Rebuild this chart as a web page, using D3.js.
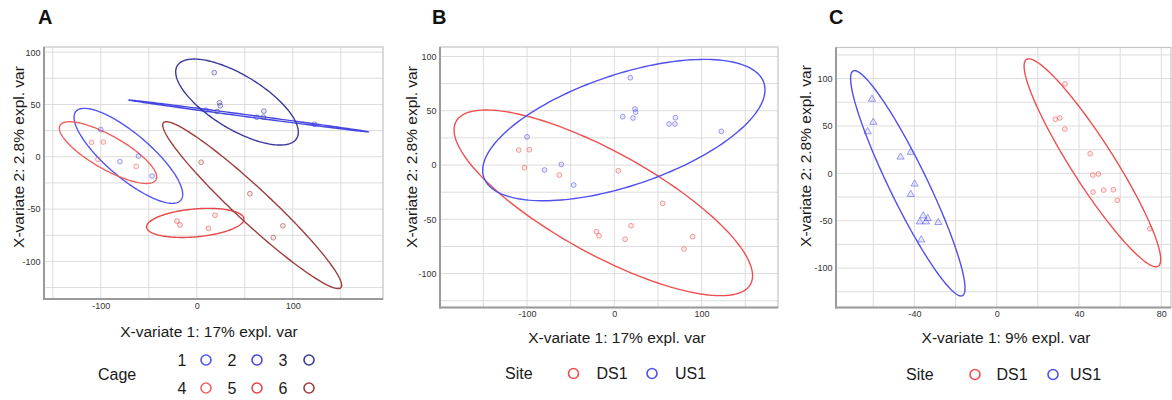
<!DOCTYPE html>
<html>
  <head>
    <meta charset="utf-8">
    <title>PLS-DA sample plots</title>
    <script src="https://d3js.org/d3.v7.min.js"></script>
    <style>
      body { margin: 0; background: #fff; }
      text { font-family: "Liberation Sans", Arial, sans-serif; }
    </style>
  </head>
  <body>
  </body>
</html>

<script>
  // samples shared by panel A (coloured by cage) and panel B (coloured by site)
  var sampleX = [-100, -60.7, -80, -46.5, 18.3, 9.6, 23.7, 24.5, 21.4, 62.7, 69.5, 70, 122.6,
                 -109.5, -97.3, -103, -63, 4.6, 55.4, -20.6, -17.5, 19.1, 12.3, 79.8, 89.8];
  var sampleY = [26, 0.6, -4.6, -18.4, 80.4, 44.5, 51.6, 48.8, 43.3, 37.8, 37.8, 43.6, 31,
                 13.8, 14.1, -2.5, -9.2, -5.2, -35.3, -61.4, -65.1, -55.9, -68.4, -77.3, -66];
  var sampleCage = [1, 1, 1, 1, 3, 2, 3, 3, 3, 2, 3, 3, 2,
                    4, 4, 4, 4, 6, 6, 5, 5, 5, 5, 6, 6];
  var sampleSite = ["US1", "US1", "US1", "US1", "US1", "US1", "US1", "US1", "US1", "US1", "US1", "US1", "US1",
                    "DS1", "DS1", "DS1", "DS1", "DS1", "DS1", "DS1", "DS1", "DS1", "DS1", "DS1", "DS1"];

  // panel C samples
  var cX = [-60.6, -60, -62.7, -46.7, -41.8, -39.9, -41.8, -35.7, -33.5, -37.4, -34.4, -28.4, -36.7,
            33.2, 28.5, 30.6, 33.1, 45.4, 46.7, 49.4, 46.8, 52, 56.7, 58.6, 74.4];
  var cY = [78.2, 53.9, 44, 17.2, 22.2, -11.3, -22.2, -44.8, -47.6, -51.2, -51.2, -51.8, -70.2,
            94.4, 57.1, 58.5, 46.8, 20.7, -1.8, -0.7, -19.8, -17.7, -17.3, -28.5, -58.5];
  var cSite = ["US1", "US1", "US1", "US1", "US1", "US1", "US1", "US1", "US1", "US1", "US1", "US1", "US1",
               "DS1", "DS1", "DS1", "DS1", "DS1", "DS1", "DS1", "DS1", "DS1", "DS1", "DS1", "DS1"];

  // confidence ellipses: centre, half extent in x and y, correlation
  var cageEllipses = [
    {group: 1, cx: -71.2, cy: 0.9, hx: 56.6, hy: 45.4, r: -0.81},
    {group: 2, cx: 54.2, cy: 39.0, hx: 124.6, hy: 15.2, r: -0.998},
    {group: 3, cx: 42, cy: 52.3, hx: 63.9, hy: 41.1, r: -0.70},
    {group: 4, cx: -92.4, cy: 4.0, hx: 50.7, hy: 29.5, r: -0.79},
    {group: 5, cx: -1.5, cy: -63.2, hx: 50.7, hy: 13.9, r: 0.27},
    {group: 6, cx: 57.8, cy: -46.2, hx: 93.2, hy: 79.7, r: -0.96}
  ];
  var siteEllipsesB = [
    {group: "DS1", cx: -12.6, cy: -34.8, hx: 171, hy: 85.5, r: -0.785},
    {group: "US1", cx: 10.9, cy: 32.2, hx: 161.7, hy: 65.1, r: 0.57}
  ];
  var siteEllipsesC = [
    {group: "DS1", cx: 46.5, cy: 11.1, hx: 33.2, hy: 109.7, r: -0.93},
    {group: "US1", cx: -43.2, cy: -10.5, hx: 27.8, hy: 118.9, r: -0.93}
  ];

  var cages = [1, 2, 3, 4, 5, 6];
  var sites = ["DS1", "US1"];
  var ticksAB_X = [-100, 0, 100];
  var ticksAB_Y = [-100, -50, 0, 50, 100];
  var ticksC_X = [-40, 0, 40, 80];
  var ticksC_Y = [-100, -50, 0, 50, 100];

  var cageColor = {1: "#5656ee", 2: "#4646e2", 3: "#3b3b9c", 4: "#f06262", 5: "#e64646", 6: "#9c3e3e"};
  var siteColor = {"DS1": "#ee5050", "US1": "#5050ee"};

  var svgContainer = d3.select("body").append("svg")
                                      .attr("width", 1172)
                                      .attr("height", 400);

  function panel(cfg) {
    var x = d3.scaleLinear().domain(cfg.xDomain).range([cfg.left, cfg.right]);
    var y = d3.scaleLinear().domain(cfg.yDomain).range([cfg.bottom, cfg.top]);
    var g = svgContainer.append("g");

    g.append("rect")
     .attr("x", cfg.left).attr("y", cfg.top)
     .attr("width", cfg.right - cfg.left).attr("height", cfg.bottom - cfg.top)
     .attr("fill", "#fff");

    g.selectAll(".gx").data(cfg.xGrid).enter().append("line")
     .attr("x1", function(d) { return x(d); }).attr("x2", function(d) { return x(d); })
     .attr("y1", cfg.top).attr("y2", cfg.bottom)
     .attr("stroke", "#dcdcdc").attr("stroke-width", 1);
    g.selectAll(".gy").data(cfg.yGrid).enter().append("line")
     .attr("y1", function(d) { return y(d); }).attr("y2", function(d) { return y(d); })
     .attr("x1", cfg.left).attr("x2", cfg.right)
     .attr("stroke", "#dcdcdc").attr("stroke-width", 1);

    g.append("rect")
     .attr("x", cfg.left).attr("y", cfg.top)
     .attr("width", cfg.right - cfg.left).attr("height", cfg.bottom - cfg.top)
     .attr("fill", "none").attr("stroke", "#c4c4c4").attr("stroke-width", 1.2);
    g.append("line").attr("x1", cfg.left).attr("x2", cfg.left).attr("y1", cfg.top).attr("y2", cfg.bottom + 1)
     .attr("stroke", "#9a9a9a").attr("stroke-width", 2);
    g.append("line").attr("x1", cfg.left - 1).attr("x2", cfg.right).attr("y1", cfg.bottom).attr("y2", cfg.bottom)
     .attr("stroke", "#9a9a9a").attr("stroke-width", 2);

    var plain = function(d) { return String(d); };
    var ax = g.append("g").attr("transform", "translate(0," + cfg.bottom + ")")
              .call(d3.axisBottom(x).tickValues(cfg.xTicks).tickFormat(plain).tickSize(0).tickPadding(3.5));
    var ay = g.append("g").attr("transform", "translate(" + cfg.left + ",0)")
              .call(d3.axisLeft(y).tickValues(cfg.yTicks).tickFormat(plain).tickSize(0).tickPadding(3.5));
    [ax, ay].forEach(function(a) {
      a.select(".domain").remove();
      a.selectAll("text").attr("fill", "#333").style("font-size", "9px")
       .style("font-family", "'Liberation Sans', Arial, sans-serif");
    });

    g.append("text").attr("x", cfg.xTitle[0]).attr("y", cfg.xTitle[1])
     .attr("text-anchor", "middle").attr("dominant-baseline", "central")
     .style("font-size", "15.5px").attr("fill", "#1a1a1a").text(cfg.xLabel);
    g.append("text")
     .attr("transform", "translate(" + cfg.yTitle[0] + "," + cfg.yTitle[1] + ") rotate(-90)")
     .attr("text-anchor", "middle").attr("dominant-baseline", "central")
     .style("font-size", "15.5px").attr("fill", "#1a1a1a").text(cfg.yLabel);
    g.append("text").attr("x", cfg.letter[0]).attr("y", cfg.letter[1])
     .style("font-size", "20px").style("font-weight", "bold").attr("fill", "#111").text(cfg.name);

    g.append("clipPath").attr("id", "clip" + cfg.name).append("rect")
     .attr("x", cfg.left).attr("y", cfg.top)
     .attr("width", cfg.right - cfg.left).attr("height", cfg.bottom - cfg.top);
    var plot = g.append("g").attr("clip-path", "url(#clip" + cfg.name + ")");
    return {plot: plot, g: g, x: x, y: y};
  }

  function ellipsePoints(e) {
    var d = Math.acos(e.r);
    return d3.range(0, 360, 2).map(function(a) {
      var t = a * Math.PI / 180;
      return [e.cx + e.hx * Math.cos(t + d / 2), e.cy + e.hy * Math.cos(t - d / 2)];
    });
  }

  function drawEllipses(p, list, colorOf) {
    var line = d3.line().x(function(d) { return p.x(d[0]); })
                        .y(function(d) { return p.y(d[1]); })
                        .curve(d3.curveLinearClosed);
    p.plot.selectAll(".ell").data(list).enter().append("path")
      .attr("d", function(d) { return line(ellipsePoints(d)); })
      .attr("fill", "none")
      .attr("stroke", function(d) { return colorOf[d.group]; })
      .attr("stroke-width", 1.4);
  }

  function drawPoints(p, xs, ys, groups, colorOf, shapeOf) {
    p.plot.selectAll(".pt").data(xs).enter().append("path")
      .attr("transform", function(d, i) { return "translate(" + p.x(d) + "," + p.y(ys[i]) + ")"; })
      .attr("d", function(d, i) {
        var tri = shapeOf && shapeOf(groups[i]) === "triangle";
        return d3.symbol().type(tri ? d3.symbolTriangle : d3.symbolCircle).size(tri ? 22 : 18)();
      })
      .attr("fill", function(d, i) { return colorOf[groups[i]]; })
      .attr("fill-opacity", 0.12)
      .attr("stroke", function(d, i) { return colorOf[groups[i]]; })
      .attr("stroke-opacity", 0.55)
      .attr("stroke-width", 1);
  }

  function legendRow(items, y, startX, textX, circleX, colorOf) {
    items.forEach(function(it, i) {
      svgContainer.append("text").attr("x", textX[i]).attr("y", y)
        .attr("text-anchor", startX ? "start" : "middle").attr("dominant-baseline", "central")
        .style("font-size", "16px").attr("fill", "#1a1a1a").text(it);
      svgContainer.append("circle").attr("cx", circleX[i]).attr("cy", y).attr("r", 5)
        .attr("fill", "none").attr("stroke", colorOf[it]).attr("stroke-width", 1.6);
    });
  }

  // Panel A
  var pA = panel({name: "A", left: 44, right: 383, top: 47, bottom: 299,
    xDomain: [-159.1, 194.1], yDomain: [-135.9, 104.9],
    xGrid: d3.range(-150, 151, 50), yGrid: d3.range(-125, 101, 25),
    xTicks: ticksAB_X, yTicks: ticksAB_Y,
    xLabel: "X-variate 1: 17% expl. var", yLabel: "X-variate 2: 2.8% expl. var",
    xTitle: [209, 331], yTitle: [18, 157], letter: [38, 24]});
  drawEllipses(pA, cageEllipses, cageColor);
  drawPoints(pA, sampleX, sampleY, sampleCage, cageColor);

  // Panel B
  var pB = panel({name: "B", left: 440, right: 778, top: 47, bottom: 307.5,
    xDomain: [-199.7, 187.5], yDomain: [-131.2, 108.7],
    xGrid: d3.range(-150, 151, 50), yGrid: d3.range(-125, 101, 25),
    xTicks: ticksAB_X, yTicks: ticksAB_Y,
    xLabel: "X-variate 1: 17% expl. var", yLabel: "X-variate 2: 2.8% expl. var",
    xTitle: [617, 337.5], yTitle: [411.5, 157], letter: [432, 24]});
  drawEllipses(pB, siteEllipsesB, siteColor);
  drawPoints(pB, sampleX, sampleY, sampleSite, siteColor);

  // Panel C
  var pC = panel({name: "C", left: 836, right: 1171, top: 47.5, bottom: 307.5,
    xDomain: [-78.1, 84.7], yDomain: [-141.6, 132.8],
    xGrid: d3.range(-60, 81, 20), yGrid: d3.range(-125, 126, 25),
    xTicks: ticksC_X, yTicks: ticksC_Y,
    xLabel: "X-variate 1: 9% expl. var", yLabel: "X-variate 2: 2.8% expl. var",
    xTitle: [1006, 337], yTitle: [805, 156], letter: [829, 24]});
  drawEllipses(pC, siteEllipsesC, siteColor);
  drawPoints(pC, cX, cY, cSite, siteColor, function(s) { return s === "US1" ? "triangle" : "circle"; });

  // Legends
  svgContainer.append("text").attr("x", 98).attr("y", 374).attr("dominant-baseline", "central")
    .style("font-size", "16px").attr("fill", "#1a1a1a").text("Cage");
  legendRow(cages.slice(0, 3), 360, false, [182, 232, 283], [206, 257, 309], cageColor);
  legendRow(cages.slice(3), 388, false, [182, 232, 283], [206, 257, 309], cageColor);

  svgContainer.append("text").attr("x", 505).attr("y", 373.5).attr("dominant-baseline", "central")
    .style("font-size", "16px").attr("fill", "#1a1a1a").text("Site");
  legendRow(sites, 373.5, true, [596.5, 675], [573.5, 652], siteColor);

  svgContainer.append("text").attr("x", 906).attr("y", 374.5).attr("dominant-baseline", "central")
    .style("font-size", "16px").attr("fill", "#1a1a1a").text("Site");
  legendRow(sites, 374.5, true, [996.5, 1070], [975, 1053], siteColor);
</script>
